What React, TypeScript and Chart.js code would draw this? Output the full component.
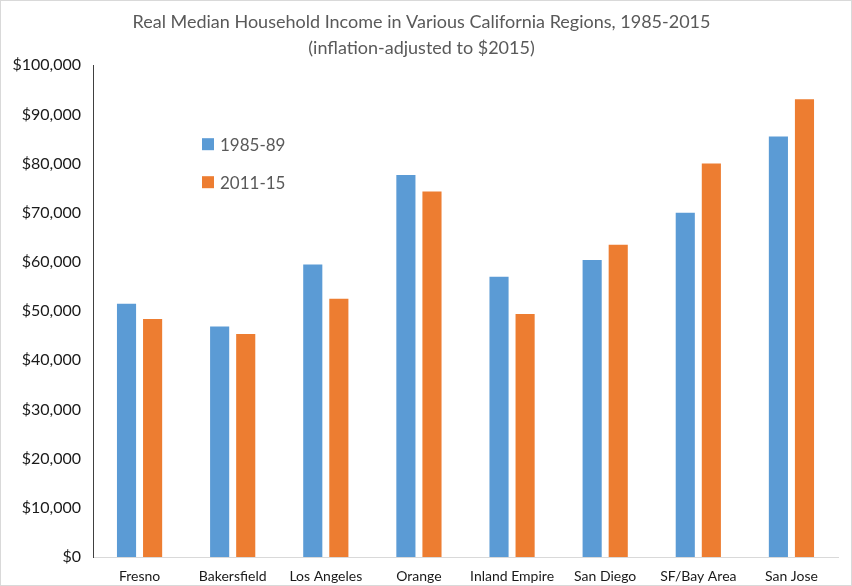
import React, { useEffect, useRef } from "react";
import { Chart, registerables } from "chart.js";

Chart.register(...registerables);

const regions = ["Fresno", "Bakersfield", "Los Angeles", "Orange", "Inland Empire", "San Diego", "SF/Bay Area", "San Jose"];
const income1985 = [51700, 47050, 59700, 77900, 57200, 60600, 70200, 85700];
const income2011 = [48600, 45550, 52700, 74500, 49600, 63700, 80200, 93300];
const seriesLabels = ["1985-89", "2011-15"];
const titleLines = ["Real Median Household Income in Various California Regions, 1985-2015", "(inflation-adjusted to $2015)"];

const BLUE = "#5B9BD5";
const ORANGE = "#ED7D31";
const FONT = "Lato, 'Open Sans', sans-serif";

const insideLegend = {
  id: "insideLegend",
  afterDraw(chart: any) {
    const { ctx, chartArea } = chart;
    const x = chartArea.left + 109;
    const ys = [chartArea.top + 79, chartArea.top + 117];
    ctx.save();
    ctx.font = `17px ${FONT}`;
    ctx.textBaseline = "middle";
    chart.data.datasets.forEach((ds: any, i: number) => {
      ctx.fillStyle = ds.backgroundColor;
      ctx.fillRect(x, ys[i] - 6, 12, 12);
      ctx.fillStyle = "#595959";
      ctx.fillText(ds.label, x + 18, ys[i] + 1);
    });
    ctx.restore();
  },
};

export default function App() {
  const ref = useRef<HTMLCanvasElement>(null);
  useEffect(() => {
    if (!ref.current) return;
    const chart = new Chart(ref.current, {
      type: "bar",
      data: {
        labels: regions,
        datasets: [
          { label: seriesLabels[0], data: income1985, backgroundColor: BLUE, borderColor: "rgba(255,255,255,0.35)", borderWidth: 1, categoryPercentage: 0.56, barPercentage: 0.81 },
          { label: seriesLabels[1], data: income2011, backgroundColor: ORANGE, borderColor: "rgba(255,255,255,0.35)", borderWidth: 1, categoryPercentage: 0.56, barPercentage: 0.81 },
        ],
      },
      plugins: [insideLegend],
      options: {
        responsive: false,
        animation: false,
        layout: { padding: { left: 4, right: 13, top: 0, bottom: 0 } },
        plugins: {
          legend: { display: false },
          tooltip: { enabled: false },
          title: {
            display: true,
            text: titleLines,
            color: "#595959",
            font: { family: FONT, size: 18, weight: "normal", lineHeight: 1.45 },
            padding: { top: 8, bottom: 4 },
          },
        },
        scales: {
          x: {
            grid: { display: false, drawTicks: false },
            border: { display: true, color: "#d9d9d9", width: 1 },
            ticks: { color: "#1a1a1a", font: { family: FONT, size: 14 }, padding: 11, maxRotation: 0, autoSkip: false },
            afterFit: (s: any) => {
              s.height = 28;
            },
          },
          y: {
            min: 0,
            max: 100000,
            grid: { display: false, drawTicks: false },
            border: { display: true, color: "#404040", width: 1 },
            ticks: {
              stepSize: 10000,
              color: "#1a1a1a",
              font: { family: FONT, size: 16 },
              padding: 12,
              callback: (v: any) => "$" + Number(v).toLocaleString("en-US"),
            },
            afterFit: (s: any) => {
              s.width = 88;
            },
          },
        },
      },
    });
    return () => chart.destroy();
  }, []);
  return (
    <div style={{ position: "fixed", left: 0, top: 0, width: 852, height: 586, background: "#fff", boxSizing: "border-box", border: "1px solid #d9d9d9" }}>
      <canvas ref={ref} width={850} height={584} style={{ display: "block" }} />
    </div>
  );
}
